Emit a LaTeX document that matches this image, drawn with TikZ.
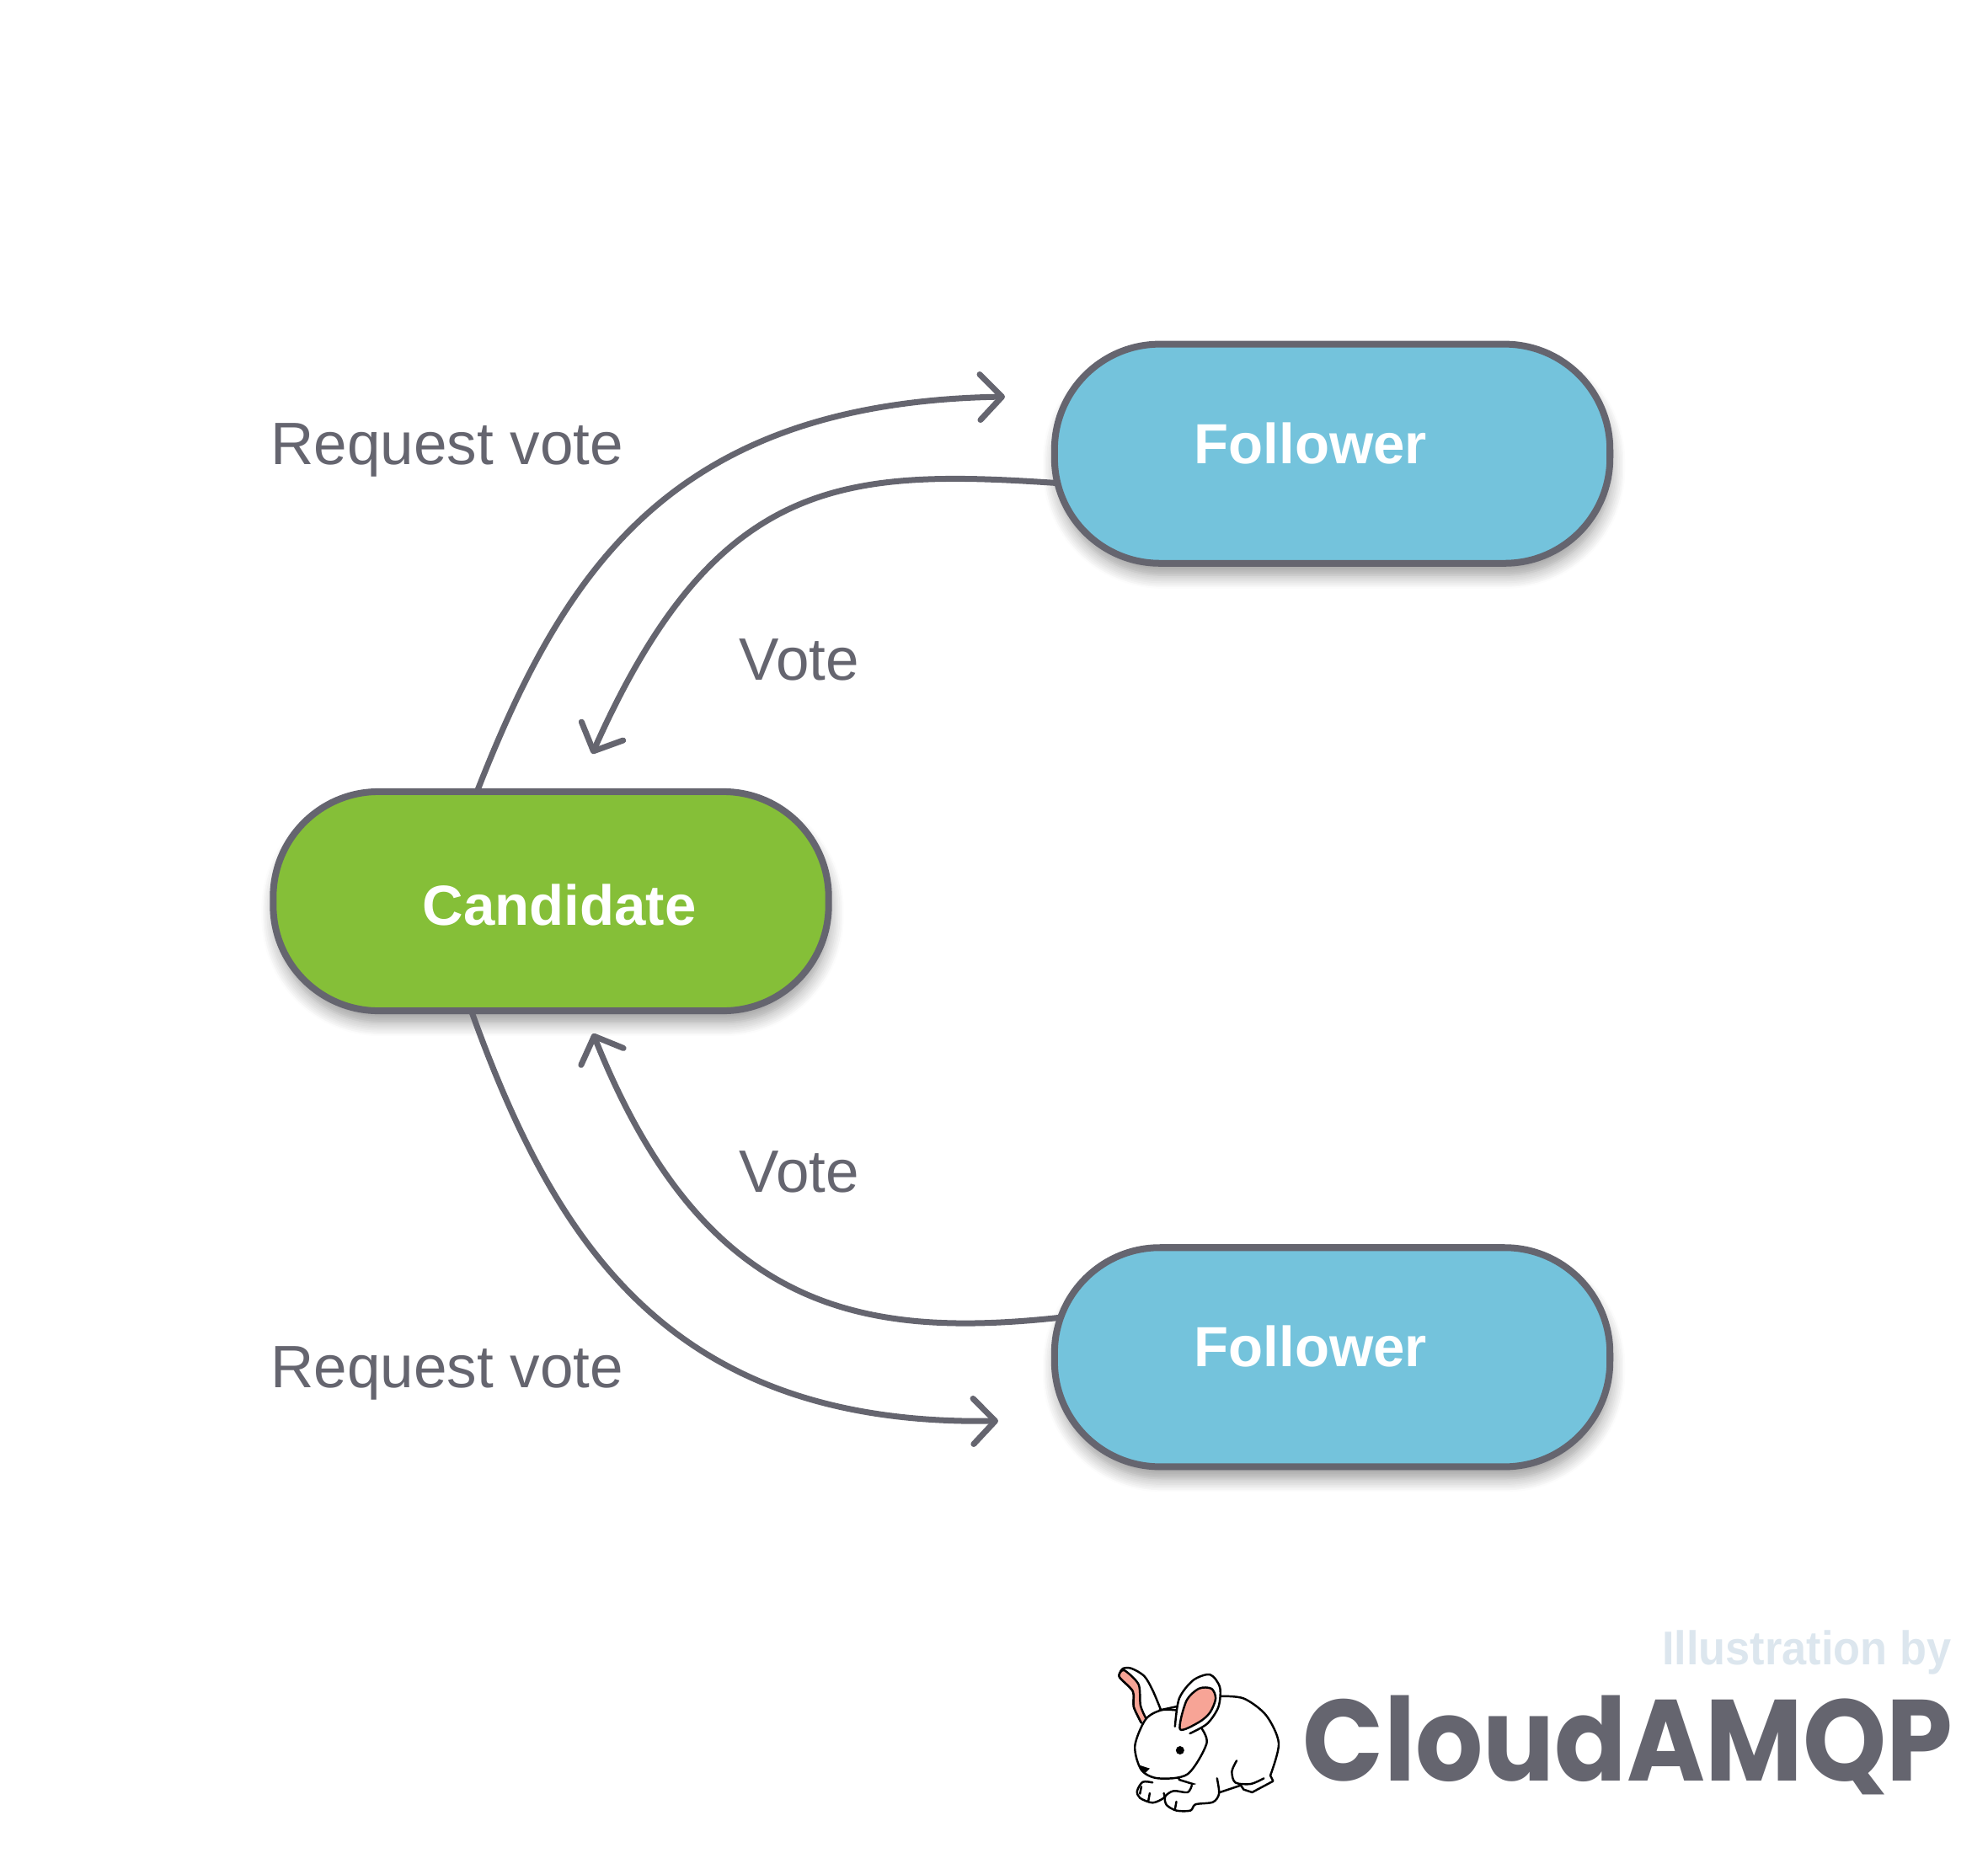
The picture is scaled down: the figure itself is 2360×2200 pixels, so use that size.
\documentclass[tikz,border=0pt]{standalone}
\usepackage{xcolor}
\usepackage{fontspec}
\setmainfont{Liberation Sans}
\newfontfamily\logofont[FakeStretch=0.92]{Poppins}
\newfontfamily\bylinefont[FakeStretch=0.93]{Liberation Sans}
\usepackage{tikz}
\usetikzlibrary{arrows.meta,positioning,shadows.blur}
\definecolor{slate}{HTML}{65656F}
\definecolor{mblue}{HTML}{74C3DC}
\definecolor{mgreen}{HTML}{85BF38}
\definecolor{mist}{HTML}{DCE6EE}
\definecolor{earpink}{HTML}{F7A496}
\tikzset{
  statebox/.style={draw=slate, line width=0.08cm, rounded corners=1.25cm, fill=#1,
                   minimum width=6.59cm, minimum height=2.6cm, inner sep=0pt, outer sep=0pt,
                   blur shadow={shadow xshift=0.02cm, shadow yshift=-0.14cm, shadow blur steps=8, shadow blur radius=0.16cm, shadow opacity=40}},
  flow/.style={-{Straight Barb[length=0.26cm, width=0.54cm, round]}, line width=0.07cm, draw=slate},
  titletxt/.style={font=\fontsize{19.1}{23}\selectfont\bfseries, text=white, anchor=base west, inner sep=0pt},
  lbl/.style={font=\fontsize{20.2}{24}\selectfont, text=slate, anchor=base west, inner sep=0pt},
  rabbit/.style={draw=black, line width=0.7pt, line cap=round, line join=round}
}
\begin{document}
\begin{tikzpicture}[x=0.01cm, y=-0.01cm]
  \useasboundingbox (0,0) rectangle (2360,2200);
  \node[statebox=mgreen] (candidate) at (654,1070) {};
  \node[statebox=mblue, above right=2.71cm and 2.68cm of candidate] (follower1) {};
  \node[statebox=mblue, below right=2.81cm and 2.68cm of candidate] (follower2) {};
  \node[titletxt] (candidatetxt) at (501,1098) {Candidate};
  \node[titletxt] (follower1txt) at (1417,550) {Follower};
  \node[titletxt] (follower2txt) at (1417,1622) {Follower};
  \node[lbl] (request1) at (321,551) {Request vote};
  \node[lbl] (request2) at (321,1647) {Request vote};
  \node[lbl] (vote1) at (877,807) {Vote};
  \node[lbl] (vote2) at (877,1415) {Vote};
  \coordinate (req1end) at (1193,471);
  \coordinate (vote1end) at (703,895);
  \coordinate (vote2end) at (704,1227);
  \coordinate (req2end) at (1185,1687);
  \draw[flow] (candidate.124) .. controls (670,675) and (798,478) .. (req1end);
  \draw[flow, shorten <=-0.06cm] (follower1.186.5) .. controls (1000,556) and (850,565) .. (vote1end);
  \draw[flow, shorten <=-0.06cm] (follower2.172.2) .. controls (1020,1590) and (835,1555) .. (vote2end);
  \draw[flow] (candidate.234) .. controls (660,1480) and (798,1693) .. (req2end);
  % logo
  \node[anchor=base east, inner sep=0pt, text=mist, font=\bylinefont\fontsize{16}{19}\selectfont\bfseries] (byline) at (2317,1976) {Illustration by};
  \node[anchor=base east, inner sep=0pt, text=slate, font=\logofont\fontsize{39}{46}\selectfont\bfseries] (brand) at (2319,2114) {CloudAMQP};
  \begin{scope}[shift={(1300,1900)}, x=0.00333cm, y=-0.00333cm]
    % left ear
    \draw[rabbit, fill=white] plot[smooth] coordinates {(235,392) (205,320) (175,270) (130,243) (100,243) (87,262) (90,278) (135,325) (138,380) (165,437)};
    \draw[rabbit, fill=earpink] plot[smooth] coordinates {(165,437) (138,380) (135,325) (90,278) (87,262) (105,250) (155,300) (162,375) (180,418)};
    % body
    \draw[rabbit, fill=white] plot[smooth] coordinates {(445,342) (530,350) (610,410) (655,510) (625,625)} -- (635,645) -- (560,685) -- (530,675) -- (520,660) -- (445,685) -- (300,640) -- (230,392) -- (295,378) -- cycle;
    \draw[rabbit] plot[smooth] coordinates {(505,572) (488,610) (500,650) (555,655) (602,635)};
    % paws
    \draw[rabbit, fill=white] plot[smooth] coordinates {(205,650) (170,648) (150,680) (160,705) (205,722) (245,705) (245,688)};
    \draw[rabbit] (195,688) -- (190,715) (165,665) -- (160,690);
    \draw[rabbit, fill=white] plot[smooth] coordinates {(345,660) (330,685) (280,680) (250,700) (255,730) (290,750) (340,750) (358,728) (420,720) (442,690) (435,635)};
    \draw[rabbit] (290,718) -- (285,745);
    % head
    \draw[rabbit, fill=white] plot[smooth] coordinates {(290,392) (235,392) (180,425) (142,520) (165,605) (225,635) (330,620) (398,510) (375,450)};
    \fill (303,535) circle (15);
    \fill (158,588) -- (195,600) -- (180,615) -- (165,605) -- cycle;
    % right ear
    \draw[rabbit, fill=white] plot[smooth] coordinates {(285,450) (300,350) (350,285) (410,265) (445,310) (440,380) (400,440) (338,475)};
    \draw[rabbit, fill=earpink] plot[smooth cycle] coordinates {(303,460) (325,360) (370,315) (415,315) (430,350) (410,400) (370,435)};
  \end{scope}
\end{tikzpicture}
\end{document}
